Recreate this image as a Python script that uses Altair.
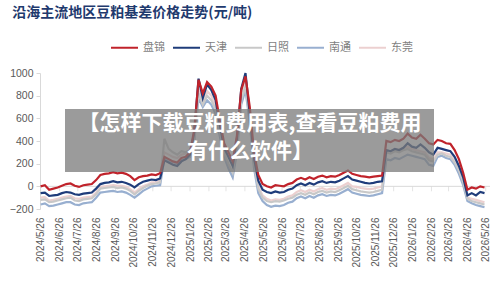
import altair as alt
import pandas as pd

# weekly observation dates
dates = pd.date_range("2024-05-26", periods=105, freq="7D").strftime("%Y-%m-%d").tolist()

panjin = [0, 10, -30, -20, -10, 5, 20, 25, 5, -5, 10, 15, 20, 55, 100, 110, 115, 125, 115, 120, 110, 90, 55, 80, 90, 95, 105, 100, 115,
          260, 240, 220, 210, 250, 260, 300, 500, 940, 820, 920, 880, 800, 580, 380, 300, 220, 450, 850, 970, 700, 300, 100, 20,
          0, -10, 10, 5, 0, 20, 30, 60, 75, 60, 80, 65, 85, 95, 80, 90, 85, 100, 120, 140, 110, 100, 90, 85, 80, 85, 90, 95,
          400, 390, 410, 400, 420, 465, 430, 420, 455, 420, 380, 370, 410, 400, 380, 375, 320, 240, 120, -30, -10, -20, 0, -10]
tianjin = [-60, -55, -85, -80, -75, -60, -50, -55, -70, -75, -65, -60, -55, -20, 20, 30, 35, 45, 35, 40, 30, 15, -10, 20, 40, 50, 60, 55, 70,
           230, 210, 190, 180, 220, 240, 280, 480, 950, 780, 900, 850, 760, 540, 340, 260, 180, 420, 860, 1000, 640, 250, 50, -30,
           -50, -60, -45, -55, -50, -30, -20, 10, 25, 10, 30, 15, 35, 45, 30, 40, 35, 50, 70, 90, 60, 50, 40, 30, 25, 30, 40, 45,
           320, 310, 330, 320, 340, 380, 350, 340, 370, 340, 300, 280, 340, 330, 320, 310, 260, 180, 80, -80, -60, -80, -50, -60]
rizhao = [-120, -115, -140, -135, -125, -115, -105, -100, -125, -130, -115, -110, -105, -70, -20, -15, -10, -5, -15, -10, -20, -40, -70, -40, -15, 5, 20, 25, 35,
          420, 330, 300, 280, 310, 300, 320, 420, 820, 720, 800, 760, 680, 480, 300, 200, 120, 350, 760, 880, 600, 200, -20, -100,
          -130, -140, -130, -135, -125, -110, -100, -75, -60, -75, -55, -70, -50, -40, -55, -45, -50, -35, -15, 5, -25, -35, -45, -50, -55, -50, -40, -30,
          300, 290, 310, 300, 320, 330, 310, 300, 290, 280, 230, 220, 280, 290, 270, 260, 210, 140, 40, -110, -130, -140, -150, -160]
nantong = [-160, -150, -175, -170, -160, -150, -140, -140, -160, -165, -150, -145, -140, -100, -55, -50, -45, -40, -50, -45, -55, -75, -100, -70, -40, -20, 0, 5, 10,
           250, 230, 210, 200, 230, 240, 260, 400, 780, 700, 760, 720, 640, 440, 260, 160, 80, 300, 720, 850, 560, 160, -60, -130,
           -165, -180, -170, -175, -165, -145, -135, -105, -90, -105, -85, -100, -80, -70, -85, -75, -80, -65, -45, -25, -55, -65, -75, -80, -85, -80, -70, -60,
           240, 230, 250, 240, 260, 280, 270, 260, 250, 240, 190, 180, 260, 270, 250, 240, 190, 110, 10, -130, -150, -165, -175, -185]
dongguan = [-100, -95, -125, -120, -110, -100, -90, -85, -105, -110, -100, -95, -90, -55, -5, 0, 5, 10, 5, 5, -5, -25, -55, -25, 0, 15, 35, 35, 50,
            300, 280, 260, 250, 280, 290, 310, 440, 860, 740, 840, 800, 700, 500, 290, 180, 90, 380, 800, 920, 620, 220, 0, -80,
            -110, -125, -115, -120, -110, -90, -80, -50, -35, -50, -30, -45, -25, -15, -30, -20, -25, -10, 10, 30, 0, -5, -15, -20, -25, -20, -10, 0,
            320, 310, 330, 320, 340, 350, 330, 320, 310, 300, 250, 240, 300, 300, 290, 280, 230, 160, 60, -100, -110, -120, -130, -140]

series_names = ["盘锦", "天津", "日照", "南通", "东莞"]
series_values = [panjin, tianjin, rizhao, nantong, dongguan]
colors = ["#c0232b", "#1f3c7a", "#c8c8c8", "#98afd0", "#ecd0d0"]

tick_dates = ["2024-05-26", "2024-06-26", "2024-07-26", "2024-08-26", "2024-09-26", "2024-10-26",
              "2024-11-26", "2024-12-26", "2025-01-26", "2025-02-26", "2025-03-26", "2025-04-26",
              "2025-05-26", "2025-06-26", "2025-07-26", "2025-08-26", "2025-09-26", "2025-10-26",
              "2025-11-26", "2025-12-26", "2026-01-26", "2026-02-26", "2026-03-26", "2026-04-26", "2026-05-26"]
y_ticks = [-200, 0, 200, 400, 600, 800, 1000]

title_text = "沿海主流地区豆粕基差价格走势(元/吨)"
banner_line1 = "【怎样下载豆粕费用表,查看豆粕费用"
banner_line2 = "有什么软件】"

rows = []
for name, vals in zip(series_names, series_values):
    for d, v in zip(dates, vals):
        rows.append({"date": d, "series": name, "value": v})
df = pd.DataFrame(rows)


def dt(s):
    y, m, d = map(int, s.split("-"))
    return alt.DateTime(year=y, month=m, date=d, utc=True)


x_scale = alt.Scale(type="utc", domain=[dt("2024-05-25"), dt("2026-06-02")])
y_scale = alt.Scale(domain=[-200, 1000], nice=False, zero=False)
color_scale = alt.Scale(domain=series_names, range=colors)

x_axis = alt.Axis(values=[dt(s) for s in tick_dates],
                  labelExpr="utcFormat(datum.value, '%Y/%-m/%d')",
                  labelAngle=-90, labelFontSize=10, labelColor="#595959", labelFont="Liberation Sans",
                  labelPadding=8, labelOverlap=False, domain=False, ticks=False, grid=False, title=None)
y_axis = alt.Axis(values=y_ticks, format="d", labelOverlap=False, labelFontSize=10.5, labelColor="#595959",
                  labelFont="Liberation Sans", domainColor="#d9d9d9", tickColor="#d9d9d9", tickSize=4,
                  labelPadding=3, grid=False, title=None)

legend = alt.Legend(orient="none", legendX=70, legendY=-40, direction="horizontal",
                    symbolType="stroke", symbolSize=729, symbolStrokeWidth=2,
                    labelFont="Noto Sans CJK SC", labelFontSize=11, labelColor="#7f7f7f",
                    labelOffset=4, columnPadding=4, title=None)

zero_df = pd.DataFrame({"v": [0]})
zero_rule = alt.Chart(zero_df).mark_rule(color="#d9d9d9", strokeWidth=1).encode(
    y=alt.Y("v:Q", scale=y_scale, axis=y_axis))
tick_df = pd.DataFrame({"d": tick_dates, "v": [0] * len(tick_dates)})
zero_ticks = alt.Chart(tick_df).mark_tick(
    orient="vertical", size=5, thickness=1, color="#d9d9d9", yOffset=2.5
).encode(x=alt.X("d:T", scale=x_scale, axis=x_axis), y=alt.Y("v:Q", scale=y_scale, axis=y_axis))

layers = [zero_rule, zero_ticks]
for name in reversed(series_names):
    layers.append(
        alt.Chart(df).transform_filter(alt.datum.series == name).mark_line(strokeWidth=2.2).encode(
            x=alt.X("date:T", scale=x_scale, axis=x_axis),
            y=alt.Y("value:Q", scale=y_scale, axis=y_axis),
            color=alt.Color("series:N", scale=color_scale, legend=legend, sort=series_names),
        )
    )

one = pd.DataFrame({"a": [0]})
banner = alt.Chart(one).mark_rect(color="#7a7a7a", opacity=0.75).encode(
    x=alt.value(25), x2=alt.value(394), y=alt.value(36), y2=alt.value(99))
t1 = alt.Chart(one).mark_text(text=banner_line1, font="Noto Sans CJK SC", fontSize=21, fontWeight="bold",
                              color="white", align="center", baseline="middle").encode(
    x=alt.value(210), y=alt.value(51))
t2 = alt.Chart(one).mark_text(text=banner_line2, font="Noto Sans CJK SC", fontSize=21, fontWeight="bold",
                              color="white", align="center", baseline="middle").encode(
    x=alt.value(210), y=alt.value(79))
layers += [banner, t1, t2]

chart = alt.layer(*layers).properties(
    width=450, height=136,
    title=alt.TitleParams(title_text, anchor="start", dx=3, offset=13, font="Noto Sans CJK SC",
                          fontSize=14, fontWeight="bold", color="#1f3a6e"),
    padding={"left": 40, "top": 73, "right": 10, "bottom": 73},
    autosize=alt.AutoSizeParams(type="none"),
).configure_view(stroke=None).configure_axisY(labelOverlap=False)

chart.save("out.html", embed_options={"renderer": "svg", "actions": False})
